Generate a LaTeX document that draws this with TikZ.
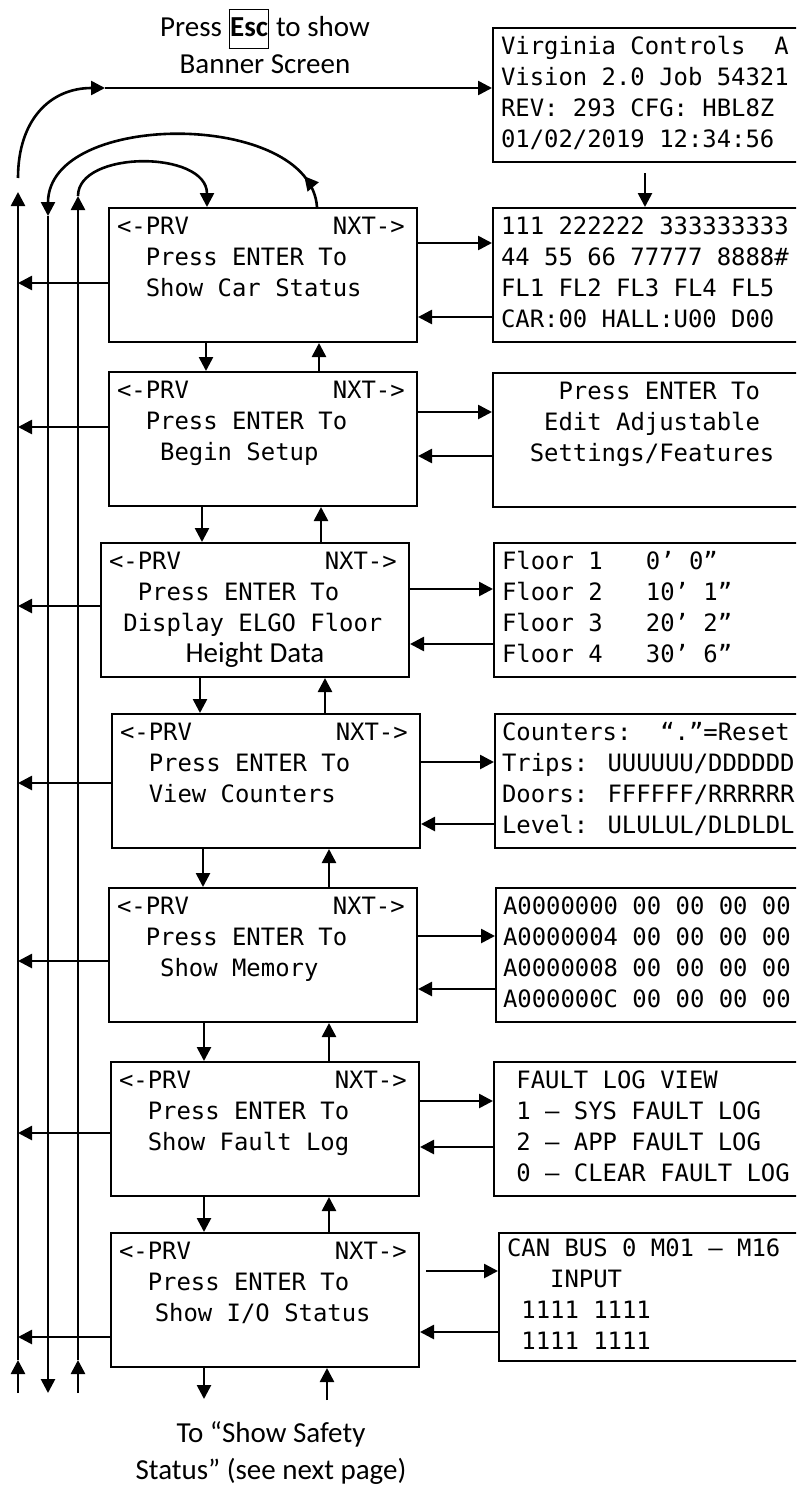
\documentclass[tikz,border=0pt]{standalone}
\usepackage{fontspec}
\usetikzlibrary{arrows.meta,decorations.markings}
\newfontfamily\lcdfont{DejaVu Sans Mono}
\newfontfamily\labfont{Carlito}
\setlength{\fboxsep}{0.5pt}
\setlength{\fboxrule}{1pt}

\begin{document}
\begin{tikzpicture}[x=1pt,y=-1pt,
    lcd/.style={draw, line width=2pt, anchor=north west, inner xsep=8pt, inner ysep=0pt,
      text width=292pt, minimum height=134pt, align=left,
      font=\lcdfont\fontsize{23.9pt}{31pt}\selectfont,
      execute at begin node={\spaceskip=0pt\xspaceskip=0pt}},
    screen/.style={lcd, text width=320pt},
    arr/.style={line width=2.6pt, -{Triangle[length=14pt,width=14pt]}},
    midarr/.style={postaction={decorate}, decoration={markings,
      mark=at position #1 with {\arrow{Triangle[length=14pt,width=14pt]}}}},
    lab/.style={align=center, font=\labfont\fontsize{29pt}{37pt}\selectfont}]

    \useasboundingbox (0,0) rectangle (796,1486);
    \clip (0,0) rectangle (796,1486);

    % menu screens
    \node[lcd] (b1) at (108,207) {\strut<-PRV~~~~~~~~~~NXT->\\~~Press ENTER To\\~~Show Car Status\\\strut};
    \node[lcd] (b2) at (108,371) {\strut<-PRV~~~~~~~~~~NXT->\\~~Press ENTER To\\~~~Begin Setup\\\strut};
    \node[lcd] (b3) at (100,542) {\strut<-PRV~~~~~~~~~~NXT->\\~~Press ENTER To\\~Display ELGO Floor\\%
      \makebox[\hsize]{\labfont\fontsize{29pt}{31pt}\selectfont Height Data}\strut};
    \node[lcd] (b4) at (111,713) {\strut<-PRV~~~~~~~~~~NXT->\\~~Press ENTER To\\~~View Counters\\\strut};
    \node[lcd] (b5) at (108,887) {\strut<-PRV~~~~~~~~~~NXT->\\~~Press ENTER To\\~~~Show Memory\\\strut};
    \node[lcd] (b6) at (110,1061) {\strut<-PRV~~~~~~~~~~NXT->\\~~Press ENTER To\\~~Show Fault Log\\\strut};
    \node[lcd] (b7) at (110,1232) {\strut<-PRV~~~~~~~~~~NXT->\\~~Press ENTER To\\~~\kern7pt Show I/O Status\\\strut};

    % data screens
    \node[screen] (r1) at (492,27) {\strut Virginia Controls~~A\\Vision 2.0 Job 54321\\REV: 293 CFG: HBL8Z\\01/02/2019 12:34:56\strut};
    \node[screen] (r2) at (492,207) {\strut 111 222222 333333333\\44 55 66 77777 8888\#\\FL1 FL2 FL3 FL4 FL5\\CAR:00 HALL:U00 D00\strut};
    \node[screen] (r3) at (492,372) {\strut~~~~Press ENTER To\\~~~Edit Adjustable\\~~Settings/Features\\\strut};
    \node[screen] (r4) at (493,542) {\strut Floor 1~~~0’ 0”\\Floor 2~~~10’ 1”\\Floor 3~~~20’ 2”\\Floor 4~~~30’ 6”\strut};
    \node[screen, inner xsep=7pt] (r5) at (494,713) {\strut Counters:~~“.”=Reset\\Trips: UUUUUU/DDDDDD\\Doors: FFFFFF/RRRRRR\\Level: ULULUL/DLDLDL\strut};
    \node[screen, inner xsep=7pt] (r6) at (495,887) {\strut A0000000 00 00 00 00\\A0000004 00 00 00 00\\A0000008 00 00 00 00\\A000000C 00 00 00 00\strut};
    \node[screen] (r7) at (493,1061) {\strut~FAULT LOG VIEW\\~1 – SYS FAULT LOG\\~2 – APP FAULT LOG\\~0 – CLEAR FAULT LOG\strut};
    \node[screen, minimum height=128pt] (r8) at (498,1232) {\strut CAN BUS 0 M01 – M16\\~~~INPUT\\~1111 1111\\~1111 1111\strut};

    % labels
    \node[lab] (esclab) at (265,41) {Press \fbox{\strut\textbf{Esc}} to show\\Banner Screen};
    \node[lab] (nextpg) at (271,1453) {To “Show Safety\\Status” (see next page)};

    % loop lines on the left
    \coordinate (outtop) at (18,192);
    \coordinate (outbot) at (18,1393);
    \coordinate (prvtop) at (48,216);
    \coordinate (prvbot) at (48,1393);
    \coordinate (nxttop) at (78,196);
    \coordinate (nxtbot) at (78,1393);
    \coordinate (escfoot) at (18,178);
    \coordinate (escmid) at (105,88);
    \coordinate (dnend) at (204,1399);
    \coordinate (upfoot) at (327,1400);

    \draw[arr] (outbot) -- (outbot |- 0,1360);
    \draw[arr] (outbot |- 0,1360) -- (outtop);
    \draw[arr] (prvtop) -- (prvbot);
    \draw[arr] (nxtbot) -- (nxtbot |- 0,1360);
    \draw[arr] (nxtbot |- 0,1360) -- (nxttop);

    \draw[arr] (escfoot) .. controls (18,120) and (50,88) .. (escmid);
    \draw[arr] (escmid) -- (r1.west |- escmid);
    \draw[arr, midarr=0.1] (b1.north -| 317,0) .. controls (310,110) and (48,110) .. (prvtop);
    \draw[arr] (nxttop) .. controls (78,150) and (207,150) .. (b1.north -| 207,0);
    \draw[arr, shorten <=10pt] (r1.south -| 645,0) -- (r2.north -| 645,0);

    % back to the left loop
    \draw[arr] (b1.west |- 0,283) -- (outtop |- 0,283);
    \draw[arr] (b2.west |- 0,427) -- (outtop |- 0,427);
    \draw[arr] (b3.west |- 0,606) -- (outtop |- 0,606);
    \draw[arr] (b4.west |- 0,783) -- (outtop |- 0,783);
    \draw[arr] (b5.west |- 0,961) -- (outtop |- 0,961);
    \draw[arr] (b6.west |- 0,1133) -- (outtop |- 0,1133);
    \draw[arr] (b7.west |- 0,1337) -- (outtop |- 0,1337);

    % to and from the data screens
    \draw[arr] (b1.east |- 0,243) -- (r2.west |- 0,243);
    \draw[arr] (r2.west |- 0,317) -- (b1.east |- 0,317);
    \draw[arr] (b2.east |- 0,412) -- (r3.west |- 0,412);
    \draw[arr] (r3.west |- 0,456) -- (b2.east |- 0,456);
    \draw[arr] (b3.east |- 0,589) -- (r4.west |- 0,589);
    \draw[arr] (r4.west |- 0,644) -- (b3.east |- 0,644);
    \draw[arr] (b4.east |- 0,762) -- (r5.west |- 0,762);
    \draw[arr] (r5.west |- 0,824) -- (b4.east |- 0,824);
    \draw[arr] (b5.east |- 0,936) -- (r6.west |- 0,936);
    \draw[arr] (r6.west |- 0,989) -- (b5.east |- 0,989);
    \draw[arr] (b6.east |- 0,1101) -- (r7.west |- 0,1101);
    \draw[arr] (r7.west |- 0,1147) -- (b6.east |- 0,1147);
    \draw[arr, shorten <=6pt] (b7.east |- 0,1271) -- (r8.west |- 0,1271);
    \draw[arr] (r8.west |- 0,1332) -- (b7.east |- 0,1332);

    % down and up between screens
    \draw[arr] (b1.south -| 206,0) -- (b2.north -| 206,0);
    \draw[arr] (b2.north -| 319,0) -- (b1.south -| 319,0);
    \draw[arr] (b2.south -| 202,0) -- (b3.north -| 202,0);
    \draw[arr] (b3.north -| 321,0) -- (b2.south -| 321,0);
    \draw[arr] (b3.south -| 200,0) -- (b4.north -| 200,0);
    \draw[arr] (b4.north -| 325,0) -- (b3.south -| 325,0);
    \draw[arr] (b4.south -| 203,0) -- (b5.north -| 203,0);
    \draw[arr] (b5.north -| 329,0) -- (b4.south -| 329,0);
    \draw[arr] (b5.south -| 204,0) -- (b6.north -| 204,0);
    \draw[arr] (b6.north -| 329,0) -- (b5.south -| 329,0);
    \draw[arr] (b6.south -| 204,0) -- (b7.north -| 204,0);
    \draw[arr] (b7.north -| 329,0) -- (b6.south -| 329,0);
    \draw[arr] (b7.south -| dnend) -- (dnend);
    \draw[arr] (upfoot) -- (b7.south -| upfoot);
\end{tikzpicture}
\end{document}
